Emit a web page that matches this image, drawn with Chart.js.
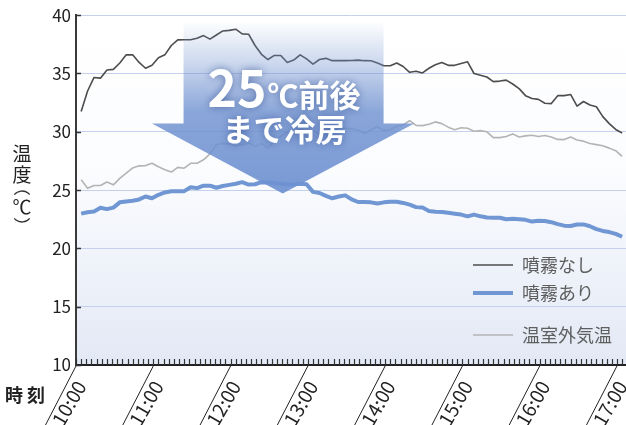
<!DOCTYPE html>
<html lang="ja">
<head>
<meta charset="utf-8">
<script src="https://cdn.jsdelivr.net/npm/chart.js@4.4.1/dist/chart.umd.min.js"></script>
<style>
  html, body { margin: 0; padding: 0; background: #fff; }
  canvas { display: block; }
</style>
</head>
<body>
<canvas id="tempChart" width="626" height="425"></canvas>
<script>
// 10:00からの経過分で記録（4分目から5分おき）
const startMinute = 4;
const stepMinute = 5;

const seriesLabels = ['噴霧なし', '噴霧あり', '温室外気温'];

const noMist = [
  31.75, 33.5, 34.66, 34.6, 35.3, 35.35, 35.9, 36.6, 36.6, 35.95,
  35.45, 35.7, 36.35, 36.6, 37.4, 37.88, 37.9, 37.9, 38.03, 38.25,
  37.95, 38.3, 38.65, 38.7, 38.8, 38.4, 38.37, 37.4, 36.65, 36.2,
  36.55, 36.55, 35.95, 36.15, 36.6, 36.25, 35.8, 36.2, 36.3, 36.1,
  36.1, 36.1, 36.12, 36.15, 36.1, 36.09, 35.9, 35.66, 35.66, 35.9,
  35.6, 35.1, 35.2, 35.05, 35.45, 35.75, 35.95, 35.7, 35.7, 35.85,
  36.0, 35.0, 34.85, 34.7, 34.3, 34.35, 34.43, 34.1, 33.7, 33.1,
  32.85, 32.78, 32.45, 32.42, 33.1, 33.1, 33.2, 32.2, 32.6, 32.3,
  32.15, 31.3, 30.7, 30.2, 29.9
];

const withMist = [
  22.98, 23.1, 23.17, 23.48, 23.37, 23.5, 23.95, 24.03, 24.08, 24.2,
  24.45, 24.3, 24.6, 24.8, 24.9, 24.91, 24.91, 25.25, 25.17, 25.38,
  25.38, 25.2, 25.35, 25.45, 25.55, 25.68, 25.47, 25.5, 25.68, 25.65,
  25.6, 25.55, 25.48, 25.5, 25.54, 25.5, 24.85, 24.75, 24.5, 24.3,
  24.45, 24.55, 24.2, 23.98, 23.97, 23.95, 23.85, 23.95, 24.0, 24.0,
  23.9, 23.75, 23.54, 23.5, 23.2, 23.15, 23.13, 23.05, 22.98, 22.9,
  22.75, 22.9, 22.75, 22.65, 22.63, 22.63, 22.5, 22.55, 22.5, 22.45,
  22.3, 22.38, 22.35, 22.25, 22.08, 21.95, 21.92, 22.05, 22.06, 21.9,
  21.65, 21.5, 21.4, 21.25, 21.0
];

const outside = [
  25.89, 25.15, 25.4, 25.4, 25.7, 25.45, 26.0, 26.45, 26.9, 27.08,
  27.1, 27.3, 27.0, 26.75, 26.55, 26.95, 26.88, 27.3, 27.3, 27.6,
  28.1, 28.9, 29.0, 28.95, 28.8, 28.9, 29.05, 28.75, 29.0, 28.6,
  29.2, 29.6, 30.0, 29.8, 30.2, 29.9, 30.1, 29.8, 30.2, 30.35,
  30.3, 30.3, 30.25, 30.15, 29.85, 30.15, 30.45, 30.1, 30.2, 30.45,
  30.6, 30.95, 30.55, 30.53, 30.65, 30.85, 30.7, 30.4, 30.18, 30.35,
  30.3, 30.05, 30.1, 30.0, 29.5, 29.5, 29.6, 29.82, 29.55, 29.65,
  29.7, 29.6, 29.68, 29.55, 29.35, 29.33, 29.55, 29.3, 29.2, 29.0,
  28.9, 28.8, 28.6, 28.38, 27.9
];

const hourLabels = ['10:00', '11:00', '12:00', '13:00', '14:00', '15:00', '16:00', '17:00'];
const yMin = 10, yMax = 40, yStep = 5;
const xMax = 427;            // 17:07
const minorTickMinutes = 4;

const jpFont = "'Noto Sans CJK JP', 'Noto Sans', sans-serif";

function toPoints(values) {
  return values.map((v, i) => ({ x: startMinute + i * stepMinute, y: v }));
}

// 「25℃前後まで冷房」の矢印（x は経過分、y は温度）
const arrow = {
  shaftFrom: 83.5, shaftTo: 238.8,
  headFrom: 59, headTo: 262.6, tipAt: 160.5,
  top: 39.5, neck: 30.72, tipTemp: 24.7
};

// 凡例の行位置（グラフ下端からの高さ）
const legendRows = [100, 72, 30];

const decor = {
  id: 'decor',
  beforeDraw(chart) {
    const { ctx, chartArea: a } = chart;
    ctx.save();
    ctx.fillStyle = '#fff';
    ctx.fillRect(0, 0, chart.width, chart.height);
    const g = ctx.createLinearGradient(0, a.top, 0, a.bottom);
    g.addColorStop(0, '#ffffff');
    g.addColorStop(0.45, '#fbfcfe');
    g.addColorStop(1, '#e2e8f5');
    ctx.fillStyle = g;
    ctx.fillRect(a.left, a.top, a.right - a.left, a.bottom - a.top);
    ctx.restore();
  },
  afterDatasetsDraw(chart) {
    const { ctx } = chart;
    const xs = chart.scales.x, ys = chart.scales.y;
    const sl = xs.getPixelForValue(arrow.shaftFrom), sr = xs.getPixelForValue(arrow.shaftTo);
    const hl = xs.getPixelForValue(arrow.headFrom), hr = xs.getPixelForValue(arrow.headTo);
    const tx = xs.getPixelForValue(arrow.tipAt);
    const top = ys.getPixelForValue(arrow.top), neck = ys.getPixelForValue(arrow.neck);
    const ty = ys.getPixelForValue(arrow.tipTemp);

    ctx.save();
    const g = ctx.createLinearGradient(0, top, 0, ty);
    g.addColorStop(0, 'rgba(112,146,208,0)');
    g.addColorStop(0.24, 'rgba(112,146,208,0.35)');
    g.addColorStop(0.53, 'rgba(112,146,208,0.82)');
    g.addColorStop(1, 'rgba(110,145,210,0.92)');
    ctx.fillStyle = g;
    ctx.beginPath();
    ctx.moveTo(sl, top);
    ctx.lineTo(sr, top);
    ctx.lineTo(sr, neck);
    ctx.lineTo(hr, neck);
    ctx.lineTo(tx, ty);
    ctx.lineTo(hl, neck);
    ctx.lineTo(sl, neck);
    ctx.closePath();
    ctx.fill();

    // 矢印の文字
    const cx = (sl + sr) / 2;
    ctx.fillStyle = '#fff';
    ctx.shadowColor = 'rgba(40,70,140,0.65)';
    ctx.shadowBlur = 9;
    ctx.textBaseline = 'alphabetic';
    ctx.textAlign = 'left';
    const big = 'bold 50px ' + jpFont, mid = 'bold 31px ' + jpFont;
    ctx.font = big;
    const w1 = ctx.measureText('25').width;
    ctx.font = mid;
    const w2 = ctx.measureText('℃前後').width;
    const x0 = cx - (w1 + w2) / 2;
    ctx.font = big;
    ctx.fillText('25', x0, neck - 16);
    ctx.font = mid;
    ctx.fillText('℃前後', x0 + w1 + 1, neck - 16);
    ctx.textAlign = 'center';
    ctx.fillText('まで冷房', cx + 1, neck + 18);
    ctx.restore();
  },
  afterDraw(chart) {
    const { ctx, chartArea: a } = chart;
    const xs = chart.scales.x, ys = chart.scales.y;
    ctx.save();

    // y軸の内向き目盛り
    ctx.strokeStyle = '#333';
    ctx.lineWidth = 1.5;
    ys.ticks.forEach(t => {
      const py = Math.round(ys.getPixelForValue(t.value)) + 0.5;
      ctx.beginPath();
      ctx.moveTo(a.left, py);
      ctx.lineTo(a.left + 5, py);
      ctx.stroke();
    });

    // x軸の細かい目盛り
    ctx.lineWidth = 1.2;
    for (let m = 0; m <= xs.max; m += minorTickMinutes) {
      const px = Math.round(xs.getPixelForValue(m)) + 0.5;
      ctx.beginPath();
      ctx.moveTo(px, a.bottom);
      ctx.lineTo(px, a.bottom - 6);
      ctx.stroke();
    }

    // 時刻ラベル横の斜線
    ctx.strokeStyle = '#222';
    ctx.lineWidth = 1;
    xs.ticks.forEach(t => {
      const px = xs.getPixelForValue(t.value);
      ctx.beginPath();
      ctx.moveTo(px, a.bottom + 1);
      ctx.lineTo(px - 31, a.bottom + 61);
      ctx.stroke();
    });

    // 軸タイトル（縦書き）
    ctx.fillStyle = '#222';
    ctx.textAlign = 'center';
    ctx.textBaseline = 'middle';
    ctx.font = '19px ' + jpFont;
    ctx.fillText('温', 22, 154);
    ctx.fillText('度', 22, 175);
    ctx.fillText('℃', 22, 207);
    // 縦書きの括弧
    ctx.strokeStyle = '#333';
    ctx.lineWidth = 1.3;
    ctx.beginPath();
    ctx.arc(22, 201, 10, Math.PI * 1.22, Math.PI * 1.78);
    ctx.stroke();
    ctx.beginPath();
    ctx.arc(22, 212, 10, Math.PI * 0.22, Math.PI * 0.78);
    ctx.stroke();

    ctx.font = 'bold 18px ' + jpFont;
    ctx.textAlign = 'left';
    ctx.fillText('時', 5, 395);
    ctx.fillText('刻', 27, 395);

    // 凡例
    ctx.font = '18px ' + jpFont;
    ctx.textBaseline = 'middle';
    chart.data.datasets.forEach((ds, i) => {
      const ly = a.bottom - legendRows[i];
      ctx.strokeStyle = ds.borderColor;
      ctx.lineWidth = ds.borderWidth;
      ctx.beginPath();
      ctx.moveTo(a.right - 153, ly);
      ctx.lineTo(a.right - 113, ly);
      ctx.stroke();
      ctx.fillStyle = '#5e5e5e';
      ctx.fillText(ds.label, a.right - 104, ly);
    });
    ctx.restore();
  }
};

new Chart(document.getElementById('tempChart'), {
  type: 'line',
  data: {
    datasets: [
      { label: seriesLabels[0], data: toPoints(noMist), borderColor: '#4d4d4d', borderWidth: 1.6 },
      { label: seriesLabels[1], data: toPoints(withMist), borderColor: '#7097d3', borderWidth: 4 },
      { label: seriesLabels[2], data: toPoints(outside), borderColor: '#b4b4b4', borderWidth: 1.6 }
    ]
  },
  options: {
    responsive: false,
    animation: false,
    devicePixelRatio: 1,
    layout: { padding: { top: 14, right: 0, left: 0, bottom: 0 } },
    elements: { point: { radius: 0 }, line: { tension: 0, borderJoinStyle: 'round' } },
    plugins: { legend: { display: false }, tooltip: { enabled: false } },
    scales: {
      x: {
        type: 'linear',
        min: 0,
        max: xMax,
        afterBuildTicks(scale) {
          scale.ticks = hourLabels.map((_, i) => ({ value: i * 60 }));
        },
        afterFit(scale) {
          scale.height = 60;
          scale.paddingLeft = 0;
          scale.paddingRight = 0;
        },
        grid: { display: false },
        border: { display: true, color: '#222', width: 2 },
        ticks: {
          autoSkip: false,
          minRotation: 60,
          maxRotation: 60,
          padding: 4,
          labelOffset: 5,
          color: '#222',
          font: { family: jpFont, size: 19 },
          callback: v => hourLabels[Math.round(v / 60)]
        }
      },
      y: {
        min: yMin,
        max: yMax,
        afterFit(scale) { scale.width = 76; },
        grid: { color: '#c4d0ec', lineWidth: 1, drawTicks: false },
        border: { display: true, color: '#3a3a3a', width: 2 },
        ticks: {
          stepSize: yStep,
          padding: 5,
          color: '#222',
          font: { family: jpFont, size: 17 }
        }
      }
    }
  },
  plugins: [decor]
});
</script>
</body>
</html>
